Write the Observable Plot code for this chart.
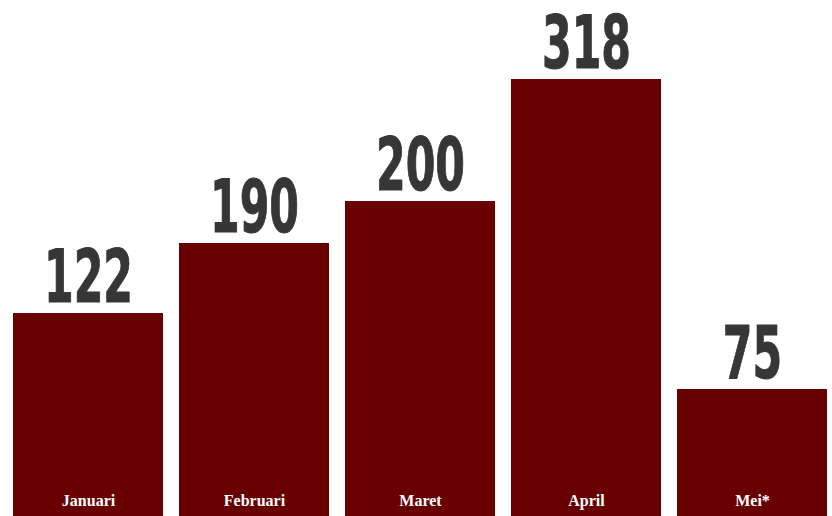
<!DOCTYPE html>
<html>
<head>
<meta charset="utf-8">
<script src="https://cdn.jsdelivr.net/npm/d3@7"></script>
<script src="https://cdn.jsdelivr.net/npm/@observablehq/plot@0.6"></script>
<style>
  html, body { margin: 0; padding: 0; background: #ffffff; }
  #chart svg { display: block; }
</style>
</head>
<body>
<div id="chart"></div>
<script>
// Month categories (Indonesian)
const months = ["Januari", "Februari", "Maret", "April", "Mei*"];
// Values printed above each bar
const values = [122, 190, 200, 318, 75];
// Drawn bar lengths (the original bars are not proportional to the values)
const barLengths = [203, 273, 315, 437, 127];

const data = months.map((m, i) => ({ month: m, value: values[i], len: barLengths[i] }));

const barColor = "#690000";
const numColor = "#363636";

const chart = Plot.plot({
  width: 832,
  height: 516,
  marginTop: 0,
  marginBottom: 0,
  marginLeft: 0,
  marginRight: 0,
  x: { domain: months, range: [5, 835], paddingInner: 16 / 166, paddingOuter: 8 / 166, axis: null },
  y: { domain: [0, 516], axis: null },
  marks: [
    Plot.barY(data, { x: "month", y: "len", fill: barColor }),
    Plot.text(data, {
      x: "month",
      y: "len",
      text: d => String(d.value),
      lineAnchor: "bottom",
      dy: -12,
      fill: numColor,
      stroke: numColor,
      strokeWidth: 1,
      fontSize: 73,
      fontWeight: "bold",
      fontFamily: "'DejaVu Sans Condensed', 'DejaVu Sans', sans-serif",
      render(index, scales, values, dims, ctx, next) {
        const g = next(index, scales, values, dims, ctx);
        d3.select(g).selectAll("text").each(function () {
          const t = this.getAttribute("transform") || "";
          this.setAttribute("transform", t + " scale(0.65,1)");
        });
        return g;
      }
    }),
    Plot.text(data, {
      x: "month",
      y: () => 0,
      text: "month",
      lineAnchor: "bottom",
      dy: -11,
      fill: "#ffffff",
      fontSize: 16,
      fontWeight: "bold",
      fontFamily: "'Liberation Serif', 'DejaVu Serif', serif"
    })
  ]
});

document.getElementById("chart").appendChild(chart);
</script>
</body>
</html>
